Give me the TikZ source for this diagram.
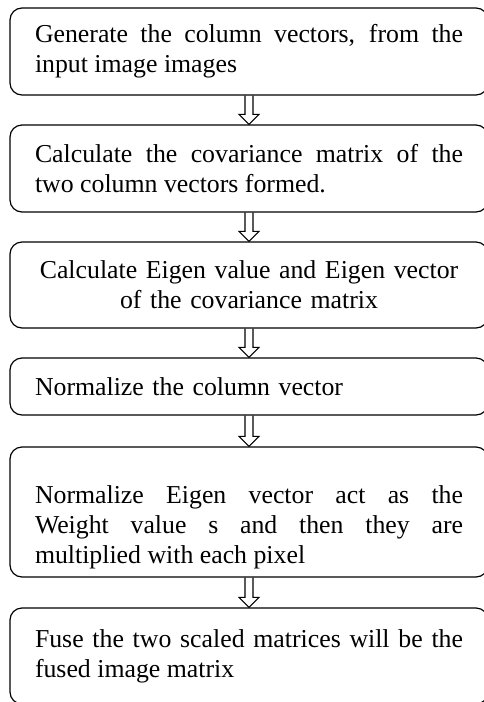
\documentclass[tikz,border=0pt]{standalone}
\usepackage{fontspec}
\setmainfont{Liberation Serif}
\tolerance=10000
\hyphenpenalty=10000

\tikzset{
  stepbox/.style={draw, rounded corners=12pt, line width=1.2pt, inner sep=0pt,
    minimum width=478pt, text width=428pt, align=justify,
    font=\fontsize{25.8}{30}\selectfont},
  flowarrow/.style={draw, line width=1.1pt}
}

\begin{document}
\begin{tikzpicture}[x=1pt,y=1pt]
  \useasboundingbox (0,0) rectangle (483,-702);

  \node[stepbox, minimum height=87pt] (b1) at (249,-51.5)
    {Generate the column vectors, from the\linebreak input image images};
  \node[stepbox, minimum height=87pt] (b2) at (249,-168.5)
    {Calculate the covariance matrix of the\linebreak two column vectors formed.};
  \node[stepbox, minimum height=86pt, text width=470pt, align=center] (b3) at (249,-285)
    {Calculate Eigen value and Eigen vector\\ of the covariance matrix};
  \node[stepbox, minimum height=57pt, align=left] (b4) at (249,-386.5)
    {Normalize the column vector};
  \node[stepbox, minimum height=130pt, text height=48pt] (b5) at (249,-512)
    {Normalize Eigen vector act as the\linebreak Weight value s and then they are\linebreak multiplied with each pixel};
  \node[stepbox, minimum height=96pt] (b6) at (249,-656)
    {Fuse the two scaled matrices will be the\linebreak fused image matrix};

  % hollow arrows between the steps
  \foreach \from/\to in {b1/b2,b2/b3,b3/b4,b4/b5,b5/b6}
    \draw[flowarrow] ([xshift=-4pt]\from.south) -- ([xshift=-4pt,yshift=10pt]\to.north)
      -- ([xshift=-10pt,yshift=10pt]\to.north) -- (\to.north)
      -- ([xshift=10pt,yshift=10pt]\to.north) -- ([xshift=4pt,yshift=10pt]\to.north)
      -- ([xshift=4pt]\from.south);
\end{tikzpicture}
\end{document}
